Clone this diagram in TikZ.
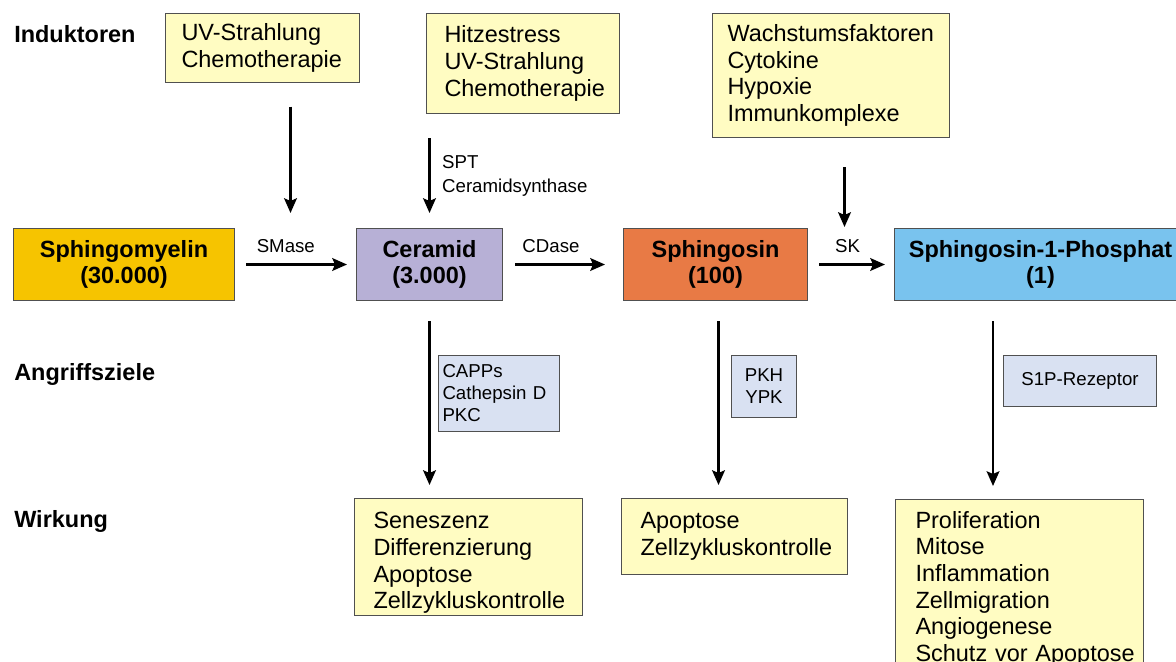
\documentclass[tikz,border=0pt]{standalone}
\usepackage{fontspec}
\setmainfont{Liberation Sans}
\usepackage{xcolor}
\usetikzlibrary{arrows.meta,positioning}

\definecolor{boxline}{RGB}{80,80,80}
\definecolor{paleyellow}{RGB}{255,252,194}
\definecolor{smgold}{RGB}{246,196,0}
\definecolor{cerlilac}{RGB}{183,176,214}
\definecolor{sphorange}{RGB}{232,122,69}
\definecolor{sipblue}{RGB}{121,195,238}
\definecolor{targetblue}{RGB}{217,225,242}

\newcommand{\bigtext}{\fontsize{17.6pt}{20pt}\selectfont}
\newcommand{\smalltext}{\fontsize{14pt}{16.5pt}\selectfont}
\hyphenpenalty=10000

\begin{document}
\begin{tikzpicture}[
    x=0.75pt, y=-0.75pt,
    box/.style={draw=boxline, line width=0.75pt, inner ysep=0pt,
                anchor=north west},
    infobox/.style={box, fill=paleyellow, font=\bigtext, align=left},
    lipid/.style={box, font=\bigtext\bfseries, align=center,
                  inner xsep=0pt, minimum height=54pt},
    target/.style={box, fill=targetblue, font=\smalltext},
    rowlabel/.style={font=\bigtext\bfseries, anchor=base west, inner sep=0pt},
    enzyme/.style={font=\smalltext, inner sep=0pt},
    arrow/.style={-{Stealth[length=11pt, width=9.5pt, inset=2pt]},
                  line width=2pt}
]
\useasboundingbox (0,0) rectangle (1176,661);
\clip (0,0) rectangle (1176,661);

\node[rowlabel] (lblInd) at (14,42) {Induktoren};
\node[rowlabel] (lblAng) at (14,380) {Angriffsziele};
\node[rowlabel] (lblWirk) at (14,527) {Wirkung};

\node[infobox, minimum width=145.5pt, minimum height=51.5pt, text width=121.5pt,
      inner xsep=12pt] (indUV) at (165,13) {UV-Strahlung\\Chemotherapie};
\node[infobox, minimum width=144.75pt, minimum height=75pt, text width=117.75pt,
      inner xsep=13.5pt] (indHeat) at (426,13)
      {Hitzestress\\UV-Strahlung\\Chemotherapie};
\node[infobox, minimum width=177.75pt, minimum height=93pt, text width=155.25pt,
      inner xsep=11.25pt] (indGrowth) at (712,13)
      {Wachstumsfaktoren\\Cytokine\\Hypoxie\\Immunkomplexe};

\node[lipid, fill=smgold, minimum width=165.75pt] (sm) at (13,228)
      {Sphingomyelin\\(30.000)};
\node[lipid, fill=cerlilac, minimum width=109.5pt] (cer) at (356,228)
      {Ceramid\\(3.000)};
\node[lipid, fill=sphorange, minimum width=138pt] (sph) at (623,228)
      {Sphingosin\\(100)};
\node[lipid, fill=sipblue, minimum width=219pt] (s1p) at (894,228)
      {Sphingosin-1-Phosphat\\(1)};

\node[target, minimum width=90.4pt, minimum height=57pt, text width=84.4pt,
      inner xsep=3pt, align=left] (tgtCer) at (438,355)
      {CAPPs\\Cathepsin D\\PKC};
\node[target, minimum width=48.75pt, minimum height=46.5pt, align=center,
      inner xsep=0pt] (tgtSph) at (731,355) {PKH\\YPK};
\node[target, minimum width=114.75pt, minimum height=38.25pt, align=center]
      (tgtS1p) at (1003,355) {S1P-Rezeptor};

\node[infobox, minimum width=171pt, minimum height=87.75pt, text width=142.5pt,
      inner xsep=14.25pt] (effCer) at (354,498)
      {\rule{0pt}{21.5pt}Seneszenz\\Differenzierung\\Apoptose\\Zellzykluskontrolle};
\node[infobox, minimum width=169.5pt, minimum height=57pt, text width=141pt,
      inner xsep=14.25pt] (effSph) at (621,498)
      {Apoptose\\Zellzykluskontrolle};
\node[infobox, minimum width=186pt, minimum height=129pt, text width=156pt,
      inner xsep=15pt] (effS1p) at (895,499)
      {\rule{0pt}{17.5pt}Proliferation\\Mitose\\Inflammation\\Zellmigration\\Angiogenese\\Schutz~vor~Apoptose};

% inducers act on the reactions
\coordinate (smaseIn) at (290.5,213);
\coordinate (skIn) at (844.5,227);
\draw[arrow, shorten <=18pt] (indUV.south -| smaseIn) -- (smaseIn);
\draw[arrow, shorten <=18pt, shorten >=11.25pt] (indHeat.south -| cer.north)
  -- node[enzyme, align=left, right=8.5pt, pos=0.54,
          font=\fontsize{14pt}{18pt}\selectfont] {SPT\\Ceramidsynthase} (cer.north);
\draw[arrow, shorten <=21.75pt] (indGrowth.south -| skIn) -- (skIn);

\draw[arrow, shorten <=8.25pt, shorten >=6.75pt] (sm)
  -- node[enzyme, above=7.5pt, pos=0.42] {SMase} (cer);
\draw[arrow, shorten <=9pt, shorten >=13.5pt] (cer)
  -- node[enzyme, above=7.5pt, pos=0.4] {CDase} (sph);
\draw[arrow, shorten <=8.25pt, shorten >=6.75pt] (sph)
  -- node[enzyme, above=7.5pt, pos=0.46] {SK} (s1p);

\draw[arrow, shorten <=15pt, shorten >=9.75pt] (cer.south)
  -- (cer.south |- effCer.north);
\draw[arrow, shorten <=15pt, shorten >=9.75pt] ([xshift=2.25pt]sph.south)
  -- ([xshift=2.25pt]sph.south |- effSph.north);
\draw[arrow, shorten <=15pt, shorten >=9.75pt] ([xshift=74.25pt]s1p.south west)
  -- ([xshift=74.25pt]s1p.south west |- effS1p.north);
\end{tikzpicture}
\end{document}
